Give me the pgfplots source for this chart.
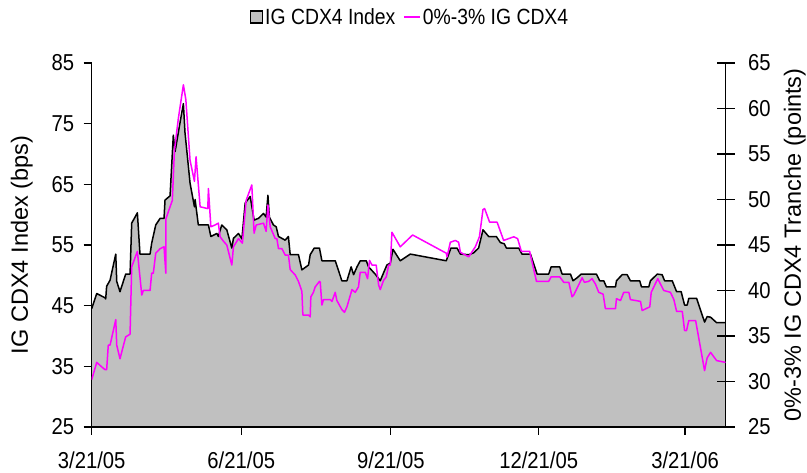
\documentclass[border=0pt]{standalone}
\usepackage{pgfplots}
\pgfplotsset{compat=1.18}
\usepackage{pgfplotstable}
\usepackage{fontspec}
\setmainfont{Liberation Sans}[FakeStretch=0.88]
\newfontfamily\labelfont{Liberation Sans}
\definecolor{areagray}{RGB}{192,192,192}
\definecolor{mag}{RGB}{255,0,255}

\pgfplotstableread{
d v
0 44.5
3.1 47.0
8.2 46.3
8.6 46.1
9.2 48.2
11.3 49.2
14.8 53.5
15.4 49.0
17.4 47.3
20.9 50.2
23.6 50.2
24.6 58.6
28.1 60.3
29.7 53.5
35.9 53.5
36.9 55.3
39.4 58.3
42.1 59.4
44.5 59.4
45.1 62.4
48.2 63.1
50.2 73.1
51.3 70.4
53.9 74.5
56.4 78.3
57.4 73.5
60.5 65.2
63.2 61.3
63.6 62.5
65.6 58.3
71.8 58.3
73.3 56.4
77.0 56.9
77.9 56.4
80.0 58.3
83.1 57.5
86.2 54.5
87.2 56.1
90.3 56.9
92.4 56.0
94.4 61.9
97.5 63.0
99.9 59.1
102.6 59.4
105.7 60.2
107.3 59.6
108.4 63.2
109.3 59.6
111.8 58.3
113.5 58.0
114.9 56.4
119.0 55.8
121.0 56.4
122.1 53.4
127.2 53.4
129.3 50.9
133.4 51.7
134.4 53.4
136.9 54.5
140.1 54.5
141.6 52.4
149.8 52.4
153.9 49.1
157.0 49.1
159.6 51.4
161.1 50.1
163.2 51.4
165.2 52.4
168.9 52.4
170.3 51.4
174.4 50.2
177.5 49.1
179.2 50.2
181.6 51.7
183.7 52.0
185.3 54.3
189.8 52.4
196.0 53.5
218.1 52.4
221.0 54.5
224.7 54.5
226.8 53.5
231.9 53.4
234.9 53.7
238.0 54.5
240.7 57.5
244.2 56.4
248.9 56.4
251.4 55.4
253.8 55.2
255.1 54.5
262.7 54.5
264.7 53.5
269.9 53.5
274.0 50.2
281.1 50.2
282.6 51.4
287.9 51.4
289.4 50.2
294.5 50.2
296.1 49.1
298.6 49.6
301.1 50.2
310.5 50.2
312.5 49.1
315.0 49.1
316.6 48.1
322.2 48.1
322.8 49.1
326.3 50.1
329.4 50.1
331.4 49.1
337.1 49.1
338.2 48.1
342.7 48.1
343.7 49.1
347.9 50.2
350.9 50.1
352.4 49.1
357.1 49.1
359.8 47.3
362.6 47.3
364.7 45.1
366.3 45.1
367.3 46.2
372.1 46.2
377.0 42.3
378.6 43.2
380.7 43.1
384.4 42.2
389.9 42.2
}\indextable

\pgfplotstableread{
d v
0 30.2
3.1 32.1
6.2 31.6
8.2 31.3
9.2 31.3
10.2 34.0
11.3 34.0
14.8 36.8
15.4 34.0
17.4 32.5
20.9 34.9
23.6 35.2
24.6 42.6
28.1 44.3
30.8 39.5
31.8 40.0
35.9 40.0
36.9 41.9
37.9 41.9
39.4 44.1
42.1 44.6
44.5 44.8
45.6 41.9
45.7 47.9
48.2 49.2
49.6 49.9
50.9 55.4
53.3 58.9
56.4 62.6
57.9 61.0
60.5 54.3
63.2 52.0
64.2 54.7
66.7 49.2
71.4 49.0
71.8 51.2
73.3 47.0
75.9 47.2
77.9 47.4
79.0 45.9
81.1 45.4
83.1 45.0
86.2 42.8
87.2 44.8
90.3 45.7
92.7 45.2
95.0 49.9
98.5 51.6
99.9 46.3
101.2 47.2
105.7 47.4
107.3 46.5
108.4 49.4
109.8 47.0
112.9 45.7
113.9 45.7
114.9 44.6
117.0 44.6
119.0 43.9
121.0 43.9
122.1 42.3
125.2 41.7
127.2 41.0
129.3 39.9
129.9 37.3
133.4 37.3
134.4 37.1
134.8 39.3
136.4 39.8
137.5 40.4
140.1 41.0
140.6 40.9
141.6 38.4
142.6 39.0
146.7 39.0
147.8 38.8
149.8 39.8
150.8 38.9
153.9 37.9
155.5 37.6
157.0 38.2
160.1 40.1
162.1 39.8
164.1 40.4
165.2 42.0
168.3 42.0
169.7 41.3
170.9 43.3
172.4 42.8
175.0 42.8
176.5 40.6
177.5 40.1
179.5 41.1
181.2 41.5
182.7 42.8
183.7 42.8
184.7 46.4
189.8 44.8
197.4 46.1
218.1 44.1
218.6 43.7
220.6 45.3
223.7 45.5
225.7 45.3
226.8 44.2
231.9 43.7
236.0 44.8
238.5 45.9
240.7 48.9
241.7 49.0
244.8 47.5
249.4 47.5
253.4 45.5
259.6 45.9
262.0 45.7
264.3 44.3
269.4 44.3
273.6 41.0
281.1 41.0
282.6 41.5
287.9 41.5
290.4 40.9
293.5 40.9
295.5 39.3
296.5 39.5
301.7 41.4
303.1 40.9
305.7 41.0
307.8 41.3
309.9 40.7
311.9 39.8
314.6 39.6
316.0 38.0
322.2 38.0
322.8 39.1
325.3 38.9
327.3 39.8
330.4 39.8
331.4 39.0
337.6 38.8
338.6 37.8
343.3 38.2
344.2 39.8
345.8 40.4
348.2 41.3
349.9 40.7
351.9 40.0
356.0 39.8
358.1 39.0
359.8 37.7
363.3 37.7
364.7 35.6
365.9 35.6
367.3 36.7
371.5 36.7
377.0 31.2
378.6 32.6
380.7 33.2
384.4 32.3
389.9 32.1
}\tranchetable

\pgfplotsset{
  common/.style={
    scale only axis, width=634pt, height=364pt,
    xmin=0, xmax=390,
    /pgf/number format/assume math mode=true,
    tick label style={font=\fontsize{23}{27}\selectfont},
    axis line style={line width=1.5pt},
    major tick length=8pt,
    tick style={black, line width=1.2pt},
  }
}

\begin{document}
\begin{tikzpicture}
\begin{axis}[common,
  axis on top,
  ymin=25, ymax=85, ytick={25,35,...,85},
  xtick={0,92,184,275,365},
  xticklabels={3/21/05,6/21/05,9/21/05,12/21/05,3/21/06},
  axis x line*=bottom, axis y line*=left,
  x axis line style={line width=2.5pt},
  tick align=outside,
  xticklabel style={yshift=-13pt},
  yticklabel style={xshift=-6pt},
  every axis y label/.style={at={(rel axis cs:0,0.5)}, xshift=-70pt, rotate=90, anchor=center, font=\labelfont\fontsize{23.5}{28}\selectfont},
  ylabel={IG CDX4 Index (bps)},
]
\addplot[fill=areagray, draw=none] table[x=d,y=v] {\indextable} \closedcycle;
\addplot[black, line width=1.5pt, line join=round] table[x=d,y=v] {\indextable};
\end{axis}
\begin{axis}[common,
  ymin=25, ymax=65, ytick={25,30,...,65},
  axis x line=none, axis y line*=right,
  tick align=center, major tick length=18pt,
  yticklabel style={xshift=10pt},
  every axis y label/.style={at={(rel axis cs:1,0.5)}, xshift=69pt, rotate=90, anchor=center, font=\labelfont\fontsize{23.5}{28}\selectfont},
  ylabel={0\%-3\% IG CDX4 Tranche (points)},
  legend style={at={(rel axis cs:0.502,1.126)}, anchor=center, draw=none,
    font=\fontsize{22}{26}\selectfont, legend columns=2,
    /tikz/every even column/.append style={column sep=6pt}},
  legend image code/.code={\draw[#1, line width=1.5pt] (0pt,0pt) -- (16pt,0pt);},
]
\addlegendimage{legend image code/.code={\draw[fill=areagray, draw=black, line width=1.5pt] (2pt,-6pt) rectangle (14pt,6pt);}}
\addlegendentry{IG CDX4 Index}
\addplot[mag, line width=1.5pt, line join=round] table[x=d,y=v] {\tranchetable};
\addlegendentry{0\%-3\% IG CDX4}
\end{axis}
\pgfresetboundingbox
\path (-91.7pt,-46pt) rectangle (715.3pt,427pt);
\end{tikzpicture}
\end{document}
